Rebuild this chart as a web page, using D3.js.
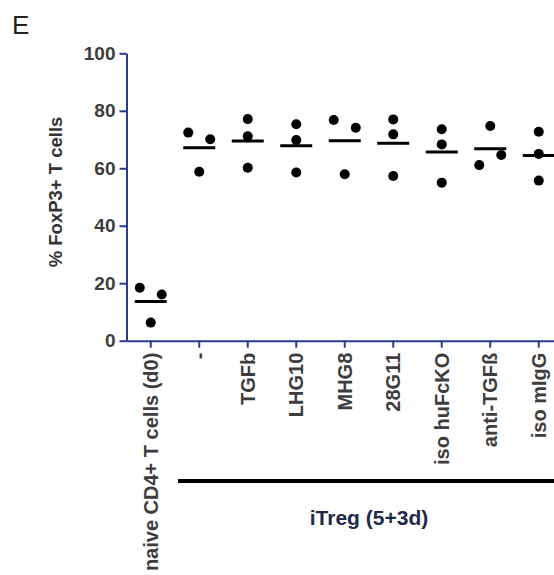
<!DOCTYPE html>
<html>
<head>
<meta charset="utf-8">
<script src="https://cdn.jsdelivr.net/npm/d3@7"></script>
<style>
  body { margin: 0; background: #fff; }
  svg { display: block; font-family: Arial, 'Liberation Sans', Helvetica, sans-serif; }
  .axis path, .axis line { stroke: #2b3a8f; stroke-width: 2; }
  .axis text { fill: #3d3d3d; font-weight: bold; font-size: 19px; }
</style>
</head>
<body>
<svg id="chart" width="554" height="575"></svg>
<script>

var CATEGORIES = ['naive CD4+ T cells (d0)', '-', 'TGFb', 'LHG10', 'MHG8', '28G11',
                  'iso huFcKO', 'anti-TGF\u00df', 'iso mIgG'],

    // three replicates per condition, % FoxP3+ of T cells
    REPLICATES = [
      [18.4, 16.1, 6.3],
      [72.4, 70.1, 58.8],
      [77.1, 71.1, 60.2],
      [75.3, 69.8, 58.5],
      [76.8, 74.1, 57.9],
      [77.0, 71.8, 57.3],
      [73.6, 68.3, 55.0],
      [74.7, 64.6, 61.1],
      [72.7, 65.0, 55.7]
    ],

    Y_TICKS = [0, 20, 40, 60, 80, 100],

    GROUP_LABEL = 'iTreg (5+3d)',
    Y_LABEL = '% FoxP3+ T cells',
    PANEL_LETTER = 'E';

var DOT_RADIUS = 5,
    SPREAD = 11,
    MEAN_HALF = 16;

var svg = d3.select('#chart'),

    x = d3.scaleBand()
      .domain(CATEGORIES)
      .range([126.5, 563]),

    y = d3.scaleLinear()
      .domain([0, 100])
      .range([340.7, 53.3]),

    // points closer than a dot diameter get pushed apart; the one nearer the mean goes right
    layoutGroup = function(values, i) {
      var mean = d3.mean(values),
          cx = x(CATEGORIES[i]) + x.bandwidth() / 2,
          sorted = values.slice().sort(d3.descending),
          offsets = sorted.map(function() { return 0; });

      for (var k = 0; k < sorted.length - 1; k++) {
        if (offsets[k] === 0 && Math.abs(y(sorted[k]) - y(sorted[k + 1])) < 2 * DOT_RADIUS + 3) {
          var kFirstNearer = Math.abs(sorted[k] - mean) < Math.abs(sorted[k + 1] - mean);
          offsets[k] = kFirstNearer ? SPREAD : -SPREAD;
          offsets[k + 1] = kFirstNearer ? -SPREAD : SPREAD;
          k++;
        }
      }

      return {
        cx: cx,
        mean: mean,
        points: sorted.map(function(v, k) { return { v: v, x: cx + offsets[k] }; })
      };
    },

    groups = REPLICATES.map(layoutGroup);

svg.append('text')
  .attr('x', 12)
  .attr('y', 34)
  .attr('font-size', 26)
  .attr('fill', '#222')
  .text(PANEL_LETTER);

// axes
svg.append('g')
  .attr('class', 'axis')
  .attr('transform', 'translate(126.5,0)')
  .call(d3.axisLeft(y).tickValues(Y_TICKS).tickSize(7).tickSizeOuter(0).tickPadding(4));

var xAxis = svg.append('g')
  .attr('class', 'axis')
  .attr('transform', 'translate(0,' + y(0) + ')')
  .call(d3.axisBottom(x).tickSize(7).tickSizeOuter(0).tickFormat(''));

xAxis.selectAll('.tick')
  .append('text')
  .attr('transform', 'translate(0,12) rotate(-90)')
  .attr('text-anchor', 'end')
  .attr('dy', '0.36em')
  .style('font-weight', 'bold')
  .style('font-size', '20px')
  .style('fill', '#3d3d3d')
  .text(function(d) { return d; });

svg.append('text')
  .attr('transform', 'translate(61.5,192) rotate(-90)')
  .attr('text-anchor', 'middle')
  .attr('font-size', 18.5)
  .attr('font-weight', 'bold')
  .attr('fill', '#333')
  .text(Y_LABEL);

// scatter + mean bars
var group = svg.selectAll('.group')
  .data(groups)
  .enter().append('g')
    .attr('class', 'group');

group.selectAll('circle')
  .data(function(g) { return g.points; })
  .enter().append('circle')
    .attr('cx', function(p) { return p.x; })
    .attr('cy', function(p) { return y(p.v); })
    .attr('r', DOT_RADIUS)
    .attr('fill', '#000');

group.append('line')
  .attr('x1', function(g) { return g.cx - MEAN_HALF; })
  .attr('x2', function(g) { return g.cx + MEAN_HALF; })
  .attr('y1', function(g) { return y(g.mean); })
  .attr('y2', function(g) { return y(g.mean); })
  .attr('stroke', '#000')
  .attr('stroke-width', 3);

// bracket under the iTreg conditions
var bracketStart = x(CATEGORIES[1]) + 3,
    bracketEnd = x.range()[1] - 3;

svg.append('line')
  .attr('x1', bracketStart)
  .attr('x2', bracketEnd)
  .attr('y1', 481)
  .attr('y2', 481)
  .attr('stroke', '#000')
  .attr('stroke-width', 4);

svg.append('text')
  .attr('x', (bracketStart + bracketEnd) / 2)
  .attr('y', 525)
  .attr('text-anchor', 'middle')
  .attr('font-size', 21)
  .attr('font-weight', 'bold')
  .attr('fill', '#1f2a4a')
  .text(GROUP_LABEL);

</script>
</body>
</html>
